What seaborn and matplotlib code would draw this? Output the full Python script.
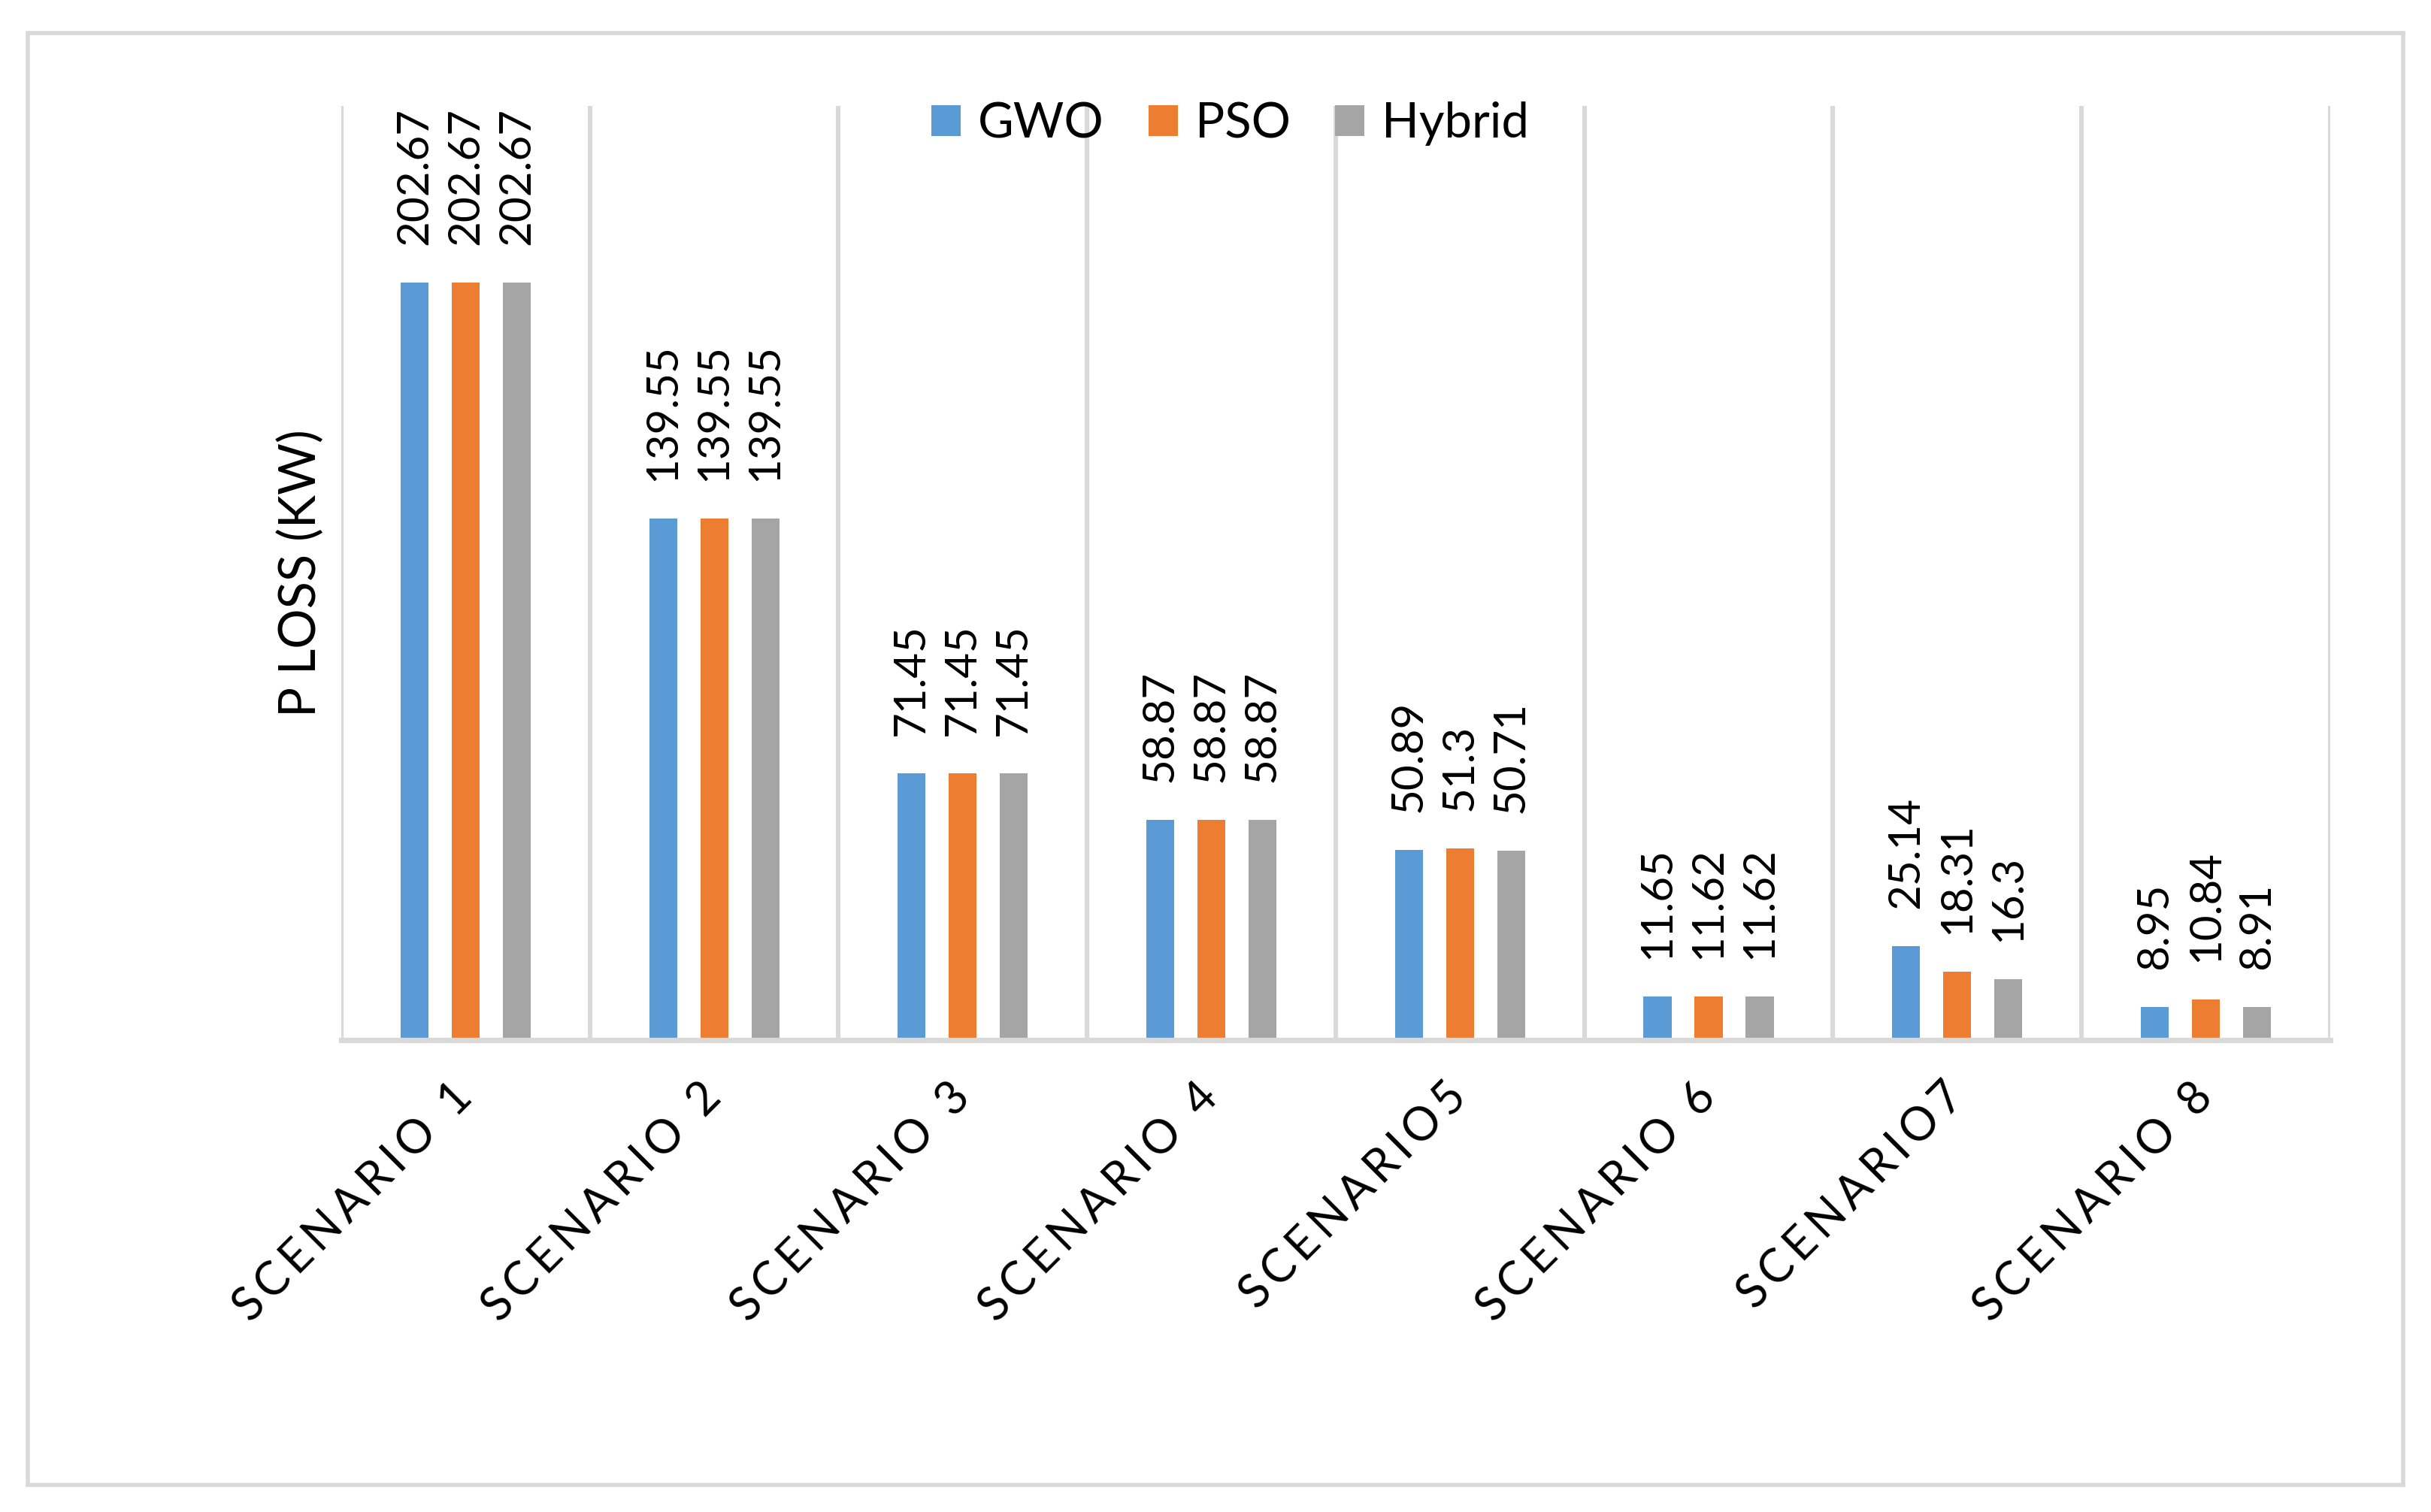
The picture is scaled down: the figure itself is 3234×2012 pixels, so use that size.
import numpy as np
import pandas as pd
import matplotlib.pyplot as plt
import seaborn as sns
from matplotlib.patches import Rectangle

plt.rcParams['font.family'] = ['Lato', 'DejaVu Sans']

# data
scenarios = ['SCENARIO 1', 'SCENARIO 2', 'SCENARIO 3', 'SCENARIO 4',
             'SCENARIO5', 'SCENARIO 6', 'SCENARIO7', 'SCENARIO 8']
gwo = [202.67, 139.55, 71.45, 58.87, 50.89, 11.65, 25.14, 8.95]
pso = [202.67, 139.55, 71.45, 58.87, 51.3, 11.62, 18.31, 10.84]
hybrid = [202.67, 139.55, 71.45, 58.87, 50.71, 11.62, 16.3, 8.91]
methods = ['GWO', 'PSO', 'Hybrid']
colors = ['#5B9BD5', '#ED7D31', '#A5A5A5']
grid_color = '#D9D9D9'

df = pd.DataFrame({
    'scenario': scenarios * len(methods),
    'method': np.repeat(methods, len(scenarios)),
    'ploss': gwo + pso + hybrid,
})


def spaced(text):
    # Excel style letter spacing
    return '\u2009'.join(text)


fig = plt.figure(figsize=(16.17, 10.06), dpi=200)
ax = fig.add_axes([0.1404, 0.312, 0.8181, 0.618])

sns.barplot(data=df, x='scenario', y='ploss', hue='method', order=scenarios,
            hue_order=methods, palette=colors, saturation=1, width=0.617,
            gap=0.455, errorbar=None, ax=ax)

ax.set_ylim(0, 250)
ax.set_xlim(-0.5, len(scenarios) - 0.5)

# data labels
for cont in ax.containers:
    ax.bar_label(cont, fmt='{:g}', rotation=90, padding=18, fontsize=21)

# axes styling
for side in ['top', 'right', 'left']:
    ax.spines[side].set_visible(False)
ax.spines['bottom'].set_color(grid_color)
ax.spines['bottom'].set_linewidth(2.6)

ax.set_yticks([])
ax.set_ylabel('P LOSS (KW)', fontsize=24, labelpad=8)
ax.set_xlabel('')

ax.set_xticks(np.arange(len(scenarios) + 1) - 0.5, minor=True)
ax.grid(which='minor', axis='x', color=grid_color, linewidth=2.2)
ax.grid(which='major', visible=False)
ax.set_axisbelow(True)
ax.set_xticks(range(len(scenarios)))
ax.set_xticklabels([spaced(s) for s in scenarios], rotation=45, ha='right',
                   va='center', rotation_mode='anchor', fontsize=22)
ax.tick_params(which='both', length=0)
ax.tick_params(axis='x', pad=24)

# legend on top
handles, labels = ax.get_legend_handles_labels()
ax.legend_.remove()
fig.legend(handles, labels, loc='center', bbox_to_anchor=(0.506, 0.918),
           ncol=3, frameon=False, fontsize=23.5, handlelength=0.6,
           handleheight=0.6, handletextpad=0.35, columnspacing=0.9)

# chart area border
fig.patches.append(Rectangle((0.0114, 0.018), 0.9772, 0.96,
                             transform=fig.transFigure, fill=False,
                             edgecolor=grid_color, linewidth=2))

fig.savefig('out.png', dpi=200)
